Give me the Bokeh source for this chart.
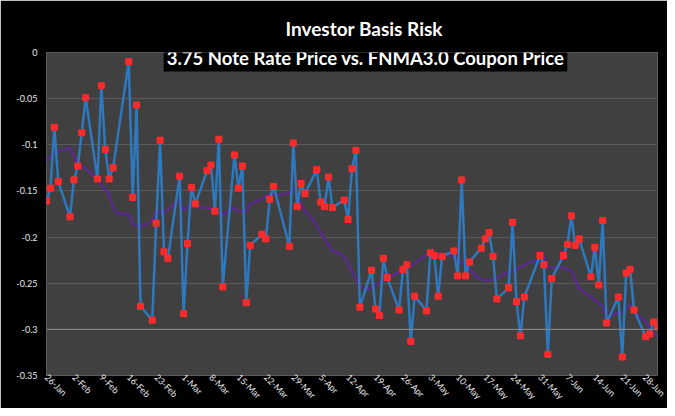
import math
import pandas as pd
from bokeh.plotting import figure
from bokeh.models import Range1d, FixedTicker, Label, Span, Title
from bokeh.embed import file_html
from bokeh.resources import INLINE

TITLE = "Investor Basis Risk"
SUBTITLE = "3.75 Note Rate Price vs. FNMA3.0 Coupon Price"

START = "2016-01-26"
END = "2016-06-30"
HOLIDAYS = ["2016-02-15", "2016-03-25", "2016-05-30"]

# daily basis (one value per business day, Jan 26 - Jun 30 2016)
basis = [
    -0.161, -0.147, -0.081, -0.140,
    -0.178, -0.138, -0.123, -0.087, -0.049,
    -0.137, -0.036, -0.105, -0.137, -0.125,
    -0.010, -0.157, -0.057, -0.275,
    -0.290, -0.185, -0.095, -0.216, -0.223,
    -0.134,
    -0.283, -0.207, -0.146, -0.164,
    -0.128, -0.122, -0.172, -0.094, -0.254,
    -0.111, -0.147, -0.123, -0.271, -0.209,
    -0.197, -0.202, -0.159, -0.145,
    -0.210, -0.098, -0.167, -0.142,
    -0.153,
    -0.127, -0.162, -0.167, -0.135, -0.168,
    -0.160, -0.181, -0.126, -0.106, -0.276,
    -0.236, -0.278, -0.285, -0.223, -0.244,
    -0.279, -0.235, -0.230, -0.313, -0.264,
    -0.280, -0.217, -0.220, -0.264, -0.221,
    -0.215, -0.242, -0.138, -0.242, -0.227,
    -0.212, -0.202, -0.195, -0.221, -0.267,
    -0.255, -0.184, -0.270, -0.307, -0.265,
    -0.220,
    -0.230, -0.327, -0.245,
    -0.220, -0.208, -0.177, -0.209, -0.202,
    -0.243, -0.211, -0.252, -0.182, -0.293,
    -0.265, -0.330, -0.239, -0.235, -0.279,
    -0.308, -0.305, -0.292, -0.297,
]

# moving-average line (purple)
avg_dates = [
    "2016-01-26", "2016-01-28", "2016-01-30", "2016-02-01", "2016-02-03", "2016-02-05",
    "2016-02-07", "2016-02-09", "2016-02-11", "2016-02-12", "2016-02-13", "2016-02-16",
    "2016-02-17", "2016-02-19", "2016-02-22", "2016-02-23", "2016-02-25", "2016-02-27",
    "2016-02-29", "2016-03-01", "2016-03-03", "2016-03-05", "2016-03-07", "2016-03-09",
    "2016-03-11", "2016-03-14", "2016-03-15", "2016-03-17", "2016-03-18", "2016-03-21",
    "2016-03-23", "2016-03-25", "2016-03-28", "2016-03-29", "2016-03-31", "2016-04-01",
    "2016-04-03", "2016-04-05", "2016-04-07", "2016-04-08", "2016-04-10", "2016-04-11",
    "2016-04-13", "2016-04-15", "2016-04-17", "2016-04-19", "2016-04-21", "2016-04-25",
    "2016-04-27", "2016-04-29", "2016-05-01", "2016-05-03", "2016-05-06", "2016-05-09",
    "2016-05-12", "2016-05-15", "2016-05-17", "2016-05-19", "2016-05-22", "2016-05-24",
    "2016-05-27", "2016-05-31", "2016-06-01", "2016-06-02", "2016-06-06", "2016-06-08",
    "2016-06-10", "2016-06-13", "2016-06-16", "2016-06-17", "2016-06-19", "2016-06-21",
    "2016-06-23", "2016-06-25", "2016-06-27", "2016-06-29", "2016-06-30",
]
avg_values = [
    -0.117, -0.109, -0.106, -0.103, -0.121, -0.126,
    -0.133, -0.143, -0.154, -0.168, -0.174, -0.175,
    -0.186, -0.189, -0.183, -0.171, -0.174, -0.167,
    -0.160, -0.171, -0.164, -0.168, -0.168, -0.171,
    -0.176, -0.168, -0.172, -0.172, -0.164, -0.159,
    -0.153, -0.154, -0.153, -0.146, -0.164, -0.172,
    -0.181, -0.195, -0.208, -0.215, -0.218, -0.222,
    -0.237, -0.254, -0.257, -0.252, -0.246, -0.238,
    -0.234, -0.228, -0.222, -0.218, -0.218, -0.221,
    -0.231, -0.244, -0.247, -0.246, -0.240, -0.237,
    -0.230, -0.223, -0.221, -0.233, -0.233, -0.237,
    -0.256, -0.265, -0.275, -0.287, -0.283, -0.282,
    -0.273, -0.285, -0.292, -0.304, -0.308,
]

x_tick_labels = ["26-Jan", "2-Feb", "9-Feb", "16-Feb", "23-Feb", "1-Mar", "8-Mar",
                 "15-Mar", "22-Mar", "29-Mar", "5-Apr", "12-Apr", "19-Apr", "26-Apr",
                 "3-May", "10-May", "17-May", "24-May", "31-May", "7-Jun", "14-Jun",
                 "21-Jun", "28-Jun"]
y_ticks = [0, -0.05, -0.1, -0.15, -0.2, -0.25, -0.3, -0.35]
y_tick_labels = ["0", "-0.05", "-0.1", "-0.15", "-0.2", "-0.25", "-0.3", "-0.35"]

origin = pd.Timestamp(START)
bdays = pd.bdate_range(START, END)
bdays = bdays[~bdays.isin(pd.to_datetime(HOLIDAYS))]
x = [(d - origin).days for d in bdays]
assert len(x) == len(basis)
avg_x = [(pd.Timestamp(d) - origin).days for d in avg_dates]
x_ticks = [(pd.Timestamp(s + "-2016") - origin).days for s in x_tick_labels]
x_end = (pd.Timestamp(END) - origin).days

FONT = "Lato"

p = figure(width=667, height=408, output_backend="svg", toolbar_location=None,
           x_range=Range1d(0, x_end), y_range=Range1d(-0.35, 0),
           min_border_left=46, min_border_right=10, min_border_top=52, min_border_bottom=0,
           background_fill_color="#404040", border_fill_color="black",
           outline_line_color="#5a5a5a")

p.xgrid.visible = False
p.ygrid.ticker = FixedTicker(ticks=y_ticks)
p.ygrid.grid_line_color = "#5a5a5a"
p.add_layout(Span(location=-0.3, dimension="width", line_color="#8c8c8c", line_width=1))

p.yaxis.ticker = FixedTicker(ticks=y_ticks)
p.yaxis.major_label_overrides = dict(zip(y_ticks, y_tick_labels))
p.xaxis.ticker = FixedTicker(ticks=x_ticks)
p.xaxis.major_label_overrides = dict(zip(x_ticks, x_tick_labels))
p.xaxis.major_label_orientation = -math.pi / 4
for ax in (p.xaxis, p.yaxis):
    ax.axis_line_color = None
    ax.major_tick_line_color = None
    ax.minor_tick_line_color = None
    ax.major_tick_out = 0
    ax.major_tick_in = 0
    ax.major_label_text_font = FONT
    ax.major_label_text_color = "#e8e8e8"
p.yaxis.major_label_text_font_size = "9px"
p.yaxis.major_label_standoff = 9
p.xaxis.major_label_text_font_size = "9px"
p.xaxis.major_label_standoff = 0

p.line(avg_x, avg_values, line_color="#5b2a8e", line_width=2.5)
p.line(x, basis, line_color="#2e78be", line_width=2.5)
p.scatter(x, basis, marker="square", size=6, fill_color="#ff2b2b", line_color="#ff2b2b")

p.add_layout(Title(text=TITLE, align="left", offset=239, standoff=26,
                   text_color="white", text_font=FONT, text_font_size="19px",
                   text_font_style="bold"), "above")
p.add_layout(Label(x=319, y=0, x_units="screen", y_units="data", y_offset=-5, text=SUBTITLE,
                   text_align="center", text_baseline="middle", text_color="white",
                   text_font=FONT, text_font_size="18.5px", text_font_style="bold",
                   background_fill_color="black", padding=3))

open("out.html", "w").write(file_html(p, INLINE))
